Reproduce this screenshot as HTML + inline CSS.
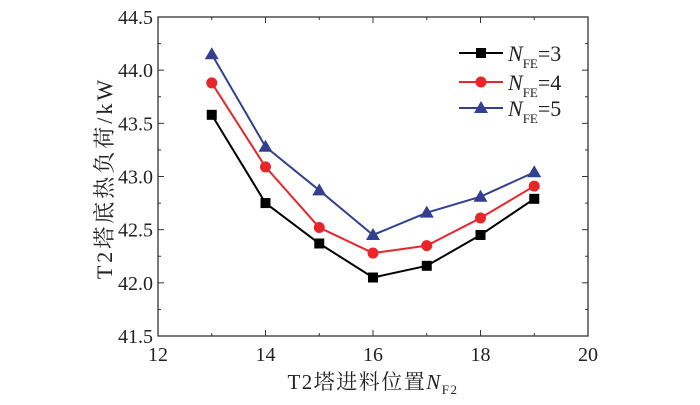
<!DOCTYPE html>
<html><head><meta charset="utf-8"><style>
body{margin:0;background:#fff;}
svg text{font-family:"Liberation Serif","Noto Serif CJK SC",serif;fill:#222;}
</style></head><body>
<svg width="700" height="400" xmlns="http://www.w3.org/2000/svg">
<g id="g"></g>
</svg>
<script>
const categories=[13,14,15,16,17,18,19];
const seriesNFE3=[43.58,42.75,42.37,42.05,42.16,42.45,42.79];
const seriesNFE4=[43.88,43.09,42.52,42.28,42.35,42.61,42.91];
const seriesNFE5=[44.15,43.28,42.87,42.45,42.66,42.81,43.04];
const xTicks=[12,14,16,18,20];
const yTicks=["41.5","42.0","42.5","43.0","43.5","44.0","44.5"];
const L=158,R=588,T=17,B=336;
const xs=v=>L+(v-12)/8*(R-L);
const ys=v=>B-(v-41.5)/3*(B-T);
const NS="http://www.w3.org/2000/svg";
const g=document.getElementById('g');
function mk(t,a,p){const e=document.createElementNS(NS,t);for(const k in a)e.setAttribute(k,a[k]);(p||g).appendChild(e);return e;}
let e=mk('rect',{x:L,y:T,width:R-L,height:B-T,fill:'none',stroke:'#333','stroke-width':1.3});


xTicks.forEach((v,i)=>{
  const x=xs(v);
  mk('line',{x1:x,x2:x,y1:B,y2:B-6,stroke:'#333'});
  mk('line',{x1:x,x2:x,y1:T,y2:T+6,stroke:'#333'});
  if(i<xTicks.length-1){const xm=xs(v+1);mk('line',{x1:xm,x2:xm,y1:B,y2:B-3,stroke:'#333'});mk('line',{x1:xm,x2:xm,y1:T,y2:T+3,stroke:'#333'});}
  const t=mk('text',{x:x,y:B+25,'text-anchor':'middle','font-size':20});t.textContent=v;
  
  
});
yTicks.forEach((s,i)=>{
  const v=parseFloat(s),y=ys(v);
  mk('line',{x1:L,x2:L+6,y1:y,y2:y,stroke:'#333'});
  mk('line',{x1:R,x2:R-6,y1:y,y2:y,stroke:'#333'});
  if(i<yTicks.length-1){const ym=ys(v+0.25);mk('line',{x1:L,x2:L+3,y1:ym,y2:ym,stroke:'#333'});mk('line',{x1:R,x2:R-3,y1:ym,y2:ym,stroke:'#333'});}
  const t=mk('text',{x:L-5,y:y+7,'text-anchor':'end','font-size':20});t.textContent=s;
  
  
});
function marker(type,x,y,c){
  if(type==='sq')return mk('rect',{x:x-5,y:y-5,width:10,height:10,fill:c});
  if(type==='ci')return mk('circle',{cx:x,cy:y,r:5.5,fill:c});
  return mk('polygon',{points:`${x},${y-7} ${x-7},${y+5} ${x+7},${y+5}`,fill:c});
}
const series=[[seriesNFE3,'#000','sq','3'],[seriesNFE4,'#e8262a','ci','4'],[seriesNFE5,'#33408f','tr','5']];
series.forEach(([d,c,m,n])=>{
  const pl=mk('polyline',{points:d.map((v,i)=>xs(categories[i])+','+ys(v)).join(' '),fill:'none',stroke:c,'stroke-width':2});
  
  
  d.forEach((v,i)=>{const mm=marker(m,xs(categories[i]),ys(v),c);
    
    });
});
const ly=[53,82,108];
series.forEach(([d,c,m,n],i)=>{
  const y=ly[i];
  const lg=mk('g',{});
  
  
  mk('line',{x1:459,x2:503,y1:y,y2:y,stroke:c,'stroke-width':2},lg);
  marker(m,481,y,c);
  const t=mk('text',{x:508,y:y+8,'font-size':22},lg);
  t.innerHTML=`<tspan font-style="italic">N</tspan><tspan font-size="13" dy="7">FE</tspan><tspan dy="-7">=${n}</tspan>`;
});
let xt=mk('text',{x:373,y:389,'text-anchor':'middle','font-size':21,'letter-spacing':1.5});
xt.innerHTML='T2塔进料位置<tspan font-style="italic">N</tspan><tspan font-size="13" dy="5">F2</tspan>';


let yt=mk('text',{x:0,y:0,'text-anchor':'middle','font-size':22,'letter-spacing':3,transform:`translate(112,178) rotate(-90)`});
yt.textContent='T2塔底热负荷/kW';


</script>
</body></html>
